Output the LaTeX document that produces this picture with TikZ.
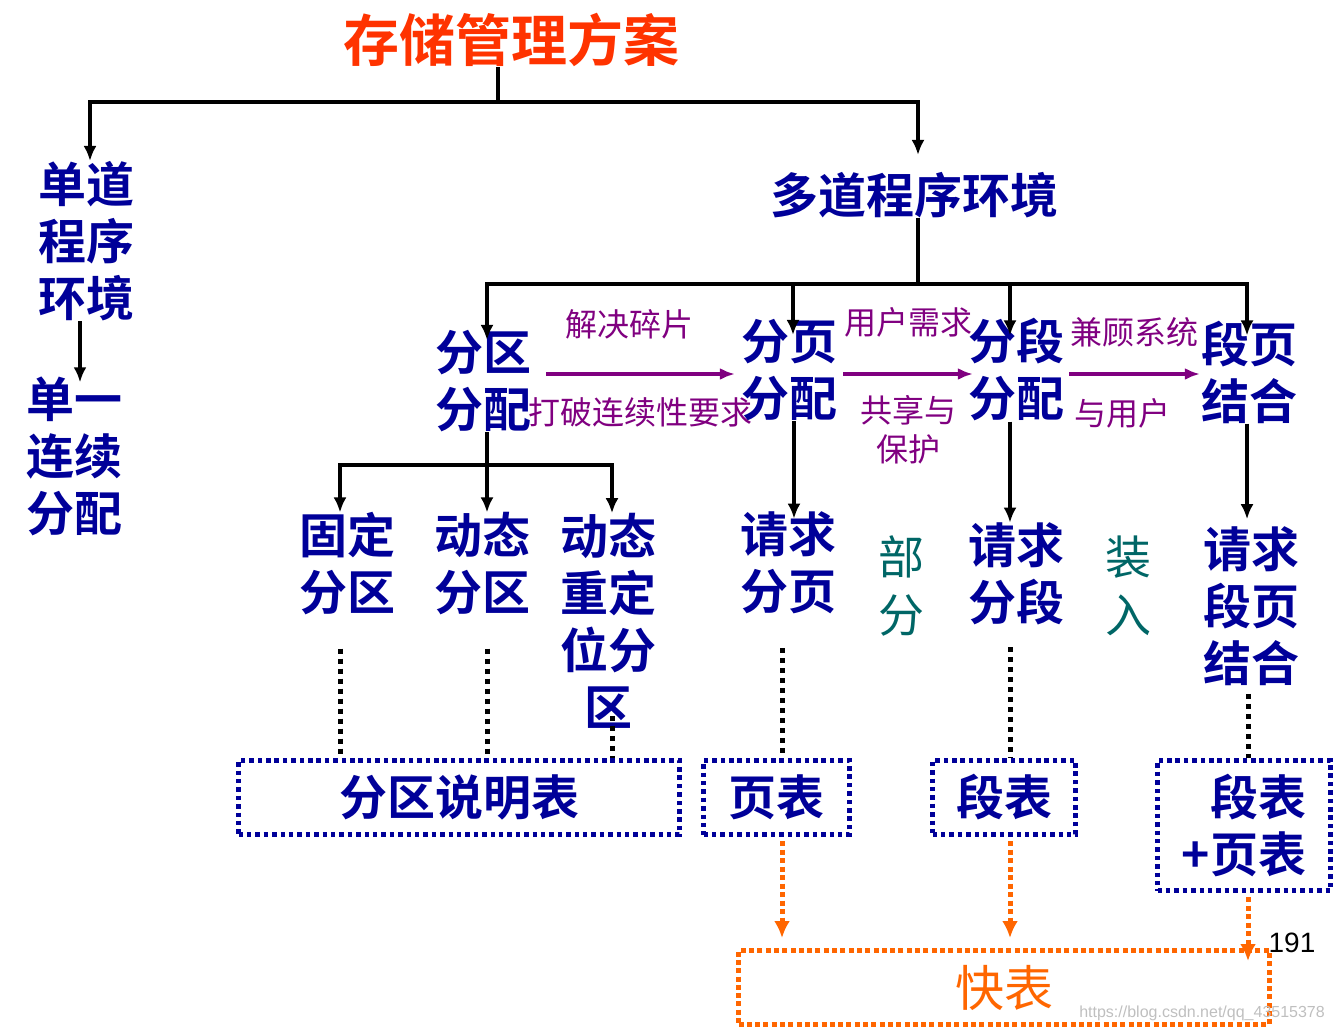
\documentclass[tikz,border=0pt]{standalone}
\usepackage{fontspec}
\setmainfont{Noto Sans CJK SC}
\newfontfamily\heiti{Noto Sans CJK SC Bold}
\newfontfamily\songti{Noto Sans CJK SC}
\setsansfont{Liberation Sans}
\usepackage{tikz}
\usetikzlibrary{calc}
\usetikzlibrary{arrows.meta}
\usetikzlibrary{positioning}
\definecolor{schemeblue}{HTML}{000099}
\definecolor{schemered}{HTML}{FF3300}
\definecolor{schemepurple}{HTML}{800080}
\definecolor{schemeteal}{HTML}{006666}
\definecolor{schemeorange}{HTML}{FF6600}
\tikzstyle{bar} = [line width=4pt]
\tikzstyle{arrow} = [-{Latex[length=15pt,width=13pt]}, line width=4pt]
\tikzstyle{parrow} = [-{Latex[length=15pt,width=12pt]}, line width=4pt, color=schemepurple]
\tikzstyle{oarrow} = [-{Latex[length=17pt,width=16pt]}, line width=5pt, color=schemeorange, dash pattern=on 5pt off 3.5pt]
\tikzstyle{dotline} = [line width=5pt, dash pattern=on 5pt off 5pt]
\tikzstyle{blk} = [text=schemeblue, font=\heiti\fontsize{48}{57}\selectfont, align=center, inner sep=0pt]
\tikzstyle{tbl} = [blk, draw=schemeblue, line width=5pt, dash pattern=on 4.5pt off 3.9pt, minimum height=74pt]
\tikzstyle{lbl} = [text=schemepurple, font=\songti\fontsize{32}{39}\selectfont, align=center, inner sep=0pt]
\tikzstyle{note} = [text=schemeteal, font=\songti\fontsize{46}{58}\selectfont, align=center, inner sep=0pt]

\begin{document}
\begin{tikzpicture}[x=1pt, y=-1pt]
            \useasboundingbox (0,0) rectangle (1335,1031);
            \node (title) [font=\heiti\fontsize{56}{60}\selectfont, text=schemered, inner sep=0pt] at (511,40) {存储管理方案};
            \node (single) [blk] at (86,241) {单道\\程序\\环境};
            \node (contig) [blk] at (74,456) {单一\\连续\\分配};
            \node (multi) [blk] at (914,195) {多道程序环境};
            \node (part) [blk] at (483,381) {分区\\分配};
            \node (page) [blk] at (789,370) {分页\\分配};
            \node (seg) [blk] at (1016,370) {分段\\分配};
            \node (segpage) [blk] at (1249,372) {段页\\结合};
            \node (fixed) [blk] at (347,564) {固定\\分区};
            \node (dynamic) [blk] at (482,564) {动态\\分区};
            \node (reloc) [blk] at (608,621) {动态\\重定\\位分\\区};
            \node (reqpage) [blk] at (788,563) {请求\\分页};
            \node (reqseg) [blk] at (1016,574) {请求\\分段};
            \node (reqsegpage) [blk] at (1251,606) {请求\\段页\\结合};
            \node (partial) [note] at (901,586) {部\\分};
            \node (loadin) [note] at (1128,586) {装\\入};

            \node (parttbl) [tbl, minimum width=441pt] at (459,797.5) {分区说明表};
            \node (pagetbl) [tbl, minimum width=146pt] at (776.5,797.5) {页表};
            \node (segtbl) [tbl, minimum width=143pt] at (1004,797.5) {段表};
            \node (sptbl) [tbl, align=right, minimum width=173pt, minimum height=130pt] at (1244,825.5) {段表\\+页表};
            \node (tlb) [draw=schemeorange, line width=5pt, dash pattern=on 5pt off 3.3pt, text=schemeorange, font=\songti\fontsize{49}{50}\selectfont, inner sep=0pt, minimum width=531pt, minimum height=74pt] at (1004,987.5) {快表};
            \node (pagenum) [font=\sffamily\fontsize{28}{30}\selectfont, inner sep=0pt] at (1292,943) {191};
            \node (mark) [font=\sffamily\fontsize{16}{17}\selectfont, text=black!25, inner sep=0pt, anchor=east] at (1325,1013) {https://blog.csdn.net/qq\_43515378};

            % tree
            \coordinate (rootbar) at (498,102);
            \coordinate (multibar) at (918,284);
            \coordinate (partbar) at (487,465);
            \draw [bar] ([xshift=-13pt]title.south) -- (rootbar);
            \draw [arrow] (rootbar) -| ([xshift=4pt]single.north);
            \draw [arrow] (rootbar) -| ([xshift=4pt,yshift=17pt]multi.north);
            \draw [arrow] ([xshift=-6pt]single.south) -- ([xshift=6pt,yshift=-6pt]contig.north);
            \draw [bar] ([xshift=4pt]multi.south) -- (multibar);
            \draw [arrow] (multibar) -| ([xshift=4pt,yshift=-10pt]part.north);
            \draw [arrow] (multibar) -| ([xshift=4pt,yshift=-16pt]page.north);
            \draw [arrow] (multibar) -| ([xshift=-6pt,yshift=-17pt]seg.north);
            \draw [arrow] (multibar) -| ([xshift=-2pt,yshift=-15pt]segpage.north);
            \draw [arrow] ([xshift=4pt]part.south) -- ([xshift=5pt]dynamic.north);
            \draw [arrow] (partbar) -| ([xshift=-7pt]fixed.north);
            \draw [arrow] (partbar) -| ([xshift=4pt]reloc.north);
            \draw [arrow] ([xshift=5pt]page.south) -- ([xshift=6pt,yshift=-7pt]reqpage.north);
            \draw [arrow] ([xshift=-6pt]seg.south) -- ([xshift=-6pt]reqseg.north);
            \draw [arrow] ([xshift=-2pt]segpage.south) -- ([xshift=-4pt,yshift=7pt]reqsegpage.north);

            % evolution
            \draw [parrow] ($(part.east |- page.east)+(15,4)$) -- node[lbl, xshift=-11pt, yshift=50pt] (fraglbl) {解决碎片} node[lbl, yshift=-38pt] (contlbl) {打破连续性要求} ($(page.west)+(-6,4)$);
            \draw [parrow] ($(page.east)+(6,4)$) -- node[lbl, yshift=52pt] (needlbl) {用户需求} node[lbl, yshift=-56pt] (sharelbl) {共享与\\保护} ($(seg.west)+(5,4)$);
            \draw [parrow] ($(seg.east)+(5,4)$) -- node[lbl, yshift=42pt] (syslbl) {兼顾系统} node[lbl, xshift=-12pt, yshift=-39pt] (userlbl) {与用户} ($(segpage.west)+(-1,2)$);

            % tables
            \draw [dotline] ($(fixed.south)+(-7,33)$) -- ($(fixed.south |- parttbl.north)+(-7,0)$);
            \draw [dotline] ($(dynamic.south)+(5,33)$) -- ($(dynamic.south |- parttbl.north)+(5,0)$);
            \draw [dotline] ($(reloc.south)+(4,-13)$) -- ($(reloc.south |- parttbl.north)+(4,0)$);
            \draw [dotline] ($(reqpage.south)+(-6,34)$) -- ($(reqpage.south |- pagetbl.north)+(-6,0)$);
            \draw [dotline] ($(reqseg.south)+(-6,22)$) -- ($(reqseg.south |- segtbl.north)+(-6,0)$);
            \draw [dotline] ($(reqsegpage.south)+(-3,8)$) -- ($(reqsegpage.south |- sptbl.north)+(-3,0)$);
            \draw [oarrow] ($(pagetbl.south)+(5.5,4)$) -- ($(pagetbl.south |- tlb.north)+(5.5,-10)$);
            \draw [oarrow] ($(segtbl.south)+(6,4)$) -- ($(segtbl.south |- tlb.north)+(6,-10)$);
            \draw [oarrow] ($(sptbl.south)+(4,4)$) -- ($(sptbl.south |- tlb.north)+(4,13)$);
        \end{tikzpicture}
\end{document}
